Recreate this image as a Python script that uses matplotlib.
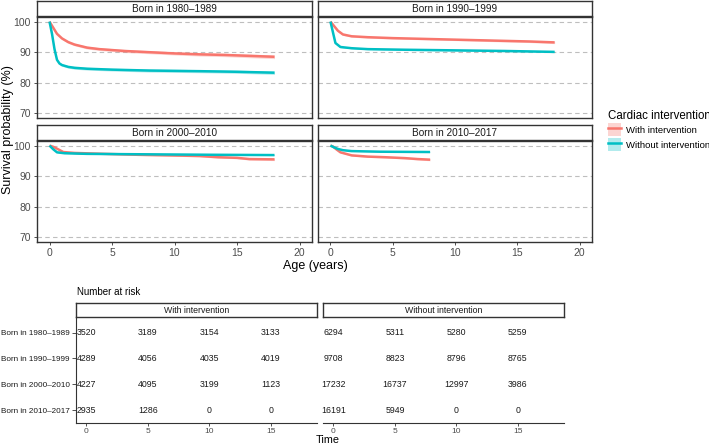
import matplotlib.pyplot as plt
from matplotlib.patches import Patch
from matplotlib.lines import Line2D
from matplotlib.legend_handler import HandlerTuple

plt.rcParams['font.family'] = ['Liberation Sans', 'DejaVu Sans']

red = '#F8766D'
cyan = '#00BFC4'

cohorts = ['Born in 1980–1989', 'Born in 1990–1999', 'Born in 2000–2010', 'Born in 2010–2017']

# survival curves (age in years, survival %)
t80_w = [0, 0.3, 0.6, 1, 1.5, 2, 3, 4, 6, 8, 10, 12, 14, 16, 18]
s80_w = [100, 98, 96, 94.5, 93.3, 92.5, 91.5, 91, 90.4, 90, 89.6, 89.3, 89.1, 88.8, 88.5]
ci80_w = [0, 0.3, 0.35, 0.4, 0.4, 0.4, 0.45, 0.45, 0.5, 0.5, 0.5, 0.55, 0.55, 0.6, 0.6]
t80_wo = [0, 0.2, 0.4, 0.6, 0.8, 1, 1.5, 2, 3, 5, 8, 12, 15, 18]
s80_wo = [100, 96, 91, 87.5, 86.3, 85.8, 85.2, 84.9, 84.6, 84.3, 84.0, 83.8, 83.6, 83.3]
ci80_wo = [0, 0.3, 0.35, 0.4, 0.4, 0.4, 0.4, 0.45, 0.45, 0.45, 0.5, 0.5, 0.5, 0.55]

t90_w = [0, 0.3, 0.6, 1, 1.7, 3, 5, 8, 10, 13, 16, 18]
s90_w = [100, 98.5, 97, 95.8, 95.2, 94.9, 94.6, 94.3, 94.1, 93.8, 93.5, 93.2]
ci90_w = [0, 0.2, 0.25, 0.3, 0.3, 0.3, 0.3, 0.3, 0.3, 0.35, 0.35, 0.4]
t90_wo = [0, 0.2, 0.4, 0.8, 1.7, 3, 6, 10, 14, 18]
s90_wo = [100, 96.5, 93, 91.7, 91.3, 91.0, 90.8, 90.6, 90.4, 90.1]
ci90_wo = [0, 0.2, 0.2, 0.2, 0.2, 0.2, 0.2, 0.25, 0.25, 0.25]

t00_w = [0, 0.3, 0.6, 1.1, 2, 4.4, 7, 9.6, 12, 13.5, 15, 16, 18]
s00_w = [100, 99.6, 99.0, 97.9, 97.6, 97.3, 97.0, 96.8, 96.6, 96.2, 96.0, 95.6, 95.5]
ci00_w = [0, 0.1, 0.15, 0.2, 0.2, 0.2, 0.25, 0.25, 0.3, 0.3, 0.3, 0.35, 0.4]
t00_wo = [0, 0.3, 0.6, 1.2, 3, 6, 9.6, 13, 18]
s00_wo = [100, 98.8, 97.8, 97.5, 97.3, 97.2, 97.1, 97.0, 96.9]
ci00_wo = [0, 0.1, 0.1, 0.1, 0.1, 0.1, 0.1, 0.15, 0.15]

t10_w = [0, 0.2, 0.5, 0.8, 1.7, 3, 4.4, 6, 7, 8]
s10_w = [100, 99.7, 98.7, 97.8, 96.8, 96.4, 96.2, 95.9, 95.6, 95.4]
ci10_w = [0, 0.1, 0.15, 0.2, 0.2, 0.25, 0.25, 0.3, 0.3, 0.35]
t10_wo = [0, 0.3, 0.6, 1.0, 1.7, 4, 8]
s10_wo = [100, 99.4, 98.9, 98.5, 98.2, 98.0, 97.9]
ci10_wo = [0, 0.1, 0.1, 0.1, 0.1, 0.1, 0.1]

curves = [
    [(t80_w, s80_w, ci80_w), (t80_wo, s80_wo, ci80_wo)],
    [(t90_w, s90_w, ci90_w), (t90_wo, s90_wo, ci90_wo)],
    [(t00_w, s00_w, ci00_w), (t00_wo, s00_wo, ci00_wo)],
    [(t10_w, s10_w, ci10_w), (t10_wo, s10_wo, ci10_wo)],
]

# number at risk table
risk_times = [0, 5, 10, 15]
risk_with = [[3520, 3189, 3154, 3133],
             [4289, 4056, 4035, 4019],
             [4227, 4095, 3199, 1123],
             [2935, 1286, 0, 0]]
risk_without = [[6294, 5311, 5280, 5259],
                [9708, 8823, 8796, 8765],
                [17232, 16737, 12997, 3986],
                [16191, 5949, 0, 0]]

W, H = 709, 444
fig = plt.figure(figsize=(W / 100, H / 100), dpi=100)


def fbox(x0, y0, x1, y1):
    return [x0 / W, 1 - y1 / H, (x1 - x0) / W, (y1 - y0) / H]


border = '#333333'
gray_txt = '#4D4D4D'

panel_px = [(37, 17, 312, 118), (318, 17, 592, 118), (37, 141, 312, 242), (318, 141, 592, 242)]
strip_px = [(37, 1, 312, 16), (318, 1, 592, 16), (37, 125, 312, 140), (318, 125, 592, 140)]

for i, (p, s) in enumerate(zip(panel_px, strip_px)):
    ax = fig.add_axes(fbox(*p))
    for (t, sv, ci), col in zip(curves[i], [red, cyan]):
        lo = [a - b for a, b in zip(sv, ci)]
        hi = [a + b for a, b in zip(sv, ci)]
        ax.fill_between(t, lo, hi, color=col, alpha=0.3, lw=0)
        ax.plot(t, sv, color=col, lw=1.8, solid_capstyle='butt')
    ax.set_xlim(-1, 21)
    ax.set_ylim(68.5, 101.5)
    ax.set_yticks([70, 80, 90, 100])
    ax.set_xticks([0, 5, 10, 15, 20])
    for y in [70, 80, 90, 100]:
        ax.axhline(y, color='#BEBEBE', lw=0.8, ls=(0, (4, 3)), zorder=0)
    for sp in ax.spines.values():
        sp.set_color(border)
        sp.set_linewidth(1.0)
    ax.tick_params(length=2.5, width=0.6, color=border, labelsize=7.5, labelcolor=gray_txt, pad=2)
    if i % 2 == 1:
        ax.tick_params(labelleft=False, left=False)
    if i < 2:
        ax.tick_params(labelbottom=False, bottom=False)
    sax = fig.add_axes(fbox(*s))
    sax.set_xticks([])
    sax.set_yticks([])
    for sp in sax.spines.values():
        sp.set_color(border)
        sp.set_linewidth(1.0)
    sax.text(0.5, 0.5, cohorts[i], ha='center', va='center', fontsize=7.2, color='#1A1A1A')

fig.text(315 / W, 1 - 266 / H, 'Age (years)', ha='center', va='center', fontsize=9)
fig.text(8 / W, 1 - 130 / H, 'Survival probability (%)', ha='center', va='center',
         rotation=90, fontsize=9)

handles = [(Patch(facecolor=red, alpha=0.3, lw=0), Line2D([], [], color=red, lw=1.8)),
           (Patch(facecolor=cyan, alpha=0.3, lw=0), Line2D([], [], color=cyan, lw=1.8))]
leg = fig.legend(handles, ['With intervention', 'Without intervention'],
                 title='Cardiac intervention', loc='upper left',
                 bbox_to_anchor=(601 / W, 1 - 103 / H), frameon=False,
                 fontsize=6.8, title_fontsize=8.3, handlelength=1.4, handleheight=1.7,
                 handletextpad=0.5, labelspacing=0.2, borderaxespad=0.3,
                 handler_map={tuple: HandlerTuple(ndivide=1, pad=0)})
leg._legend_box.align = 'left'

# table
fig.text(77 / W, 1 - 292 / H, 'Number at risk', ha='left', va='center', fontsize=7)
rows = [4, 3, 2, 1]
for j, (x0, x1, data, title) in enumerate([(76, 317, risk_with, 'With intervention'),
                                           (323, 564, risk_without, 'Without intervention')]):
    ax = fig.add_axes(fbox(x0, 317, x1, 423))
    ax.set_xlim(-0.85, 18.75)
    ax.set_ylim(0.5, 4.6)
    for r, vals in zip(rows, data):
        for t, v in zip(risk_times, vals):
            ax.text(t, r, str(v), ha='center', va='center', fontsize=6.3, color='#1A1A1A')
    ax.spines['top'].set_visible(False)
    ax.spines['right'].set_visible(False)
    ax.spines['bottom'].set_color(border)
    ax.spines['left'].set_color(border)
    ax.set_xticks(risk_times)
    ax.tick_params(axis='x', length=2.5, width=0.6, color=border, labelsize=6,
                   labelcolor=gray_txt, pad=1)
    if j == 0:
        ax.set_yticks(rows)
        ax.set_yticklabels(cohorts, fontsize=5.9, color='#1A1A1A')
        ax.tick_params(axis='y', length=3, width=0.6, color=border, pad=1.5)
    else:
        ax.spines['left'].set_visible(False)
        ax.set_yticks([])
    sax = fig.add_axes(fbox(x0, 303, x1, 317))
    sax.set_xticks([])
    sax.set_yticks([])
    for sp in sax.spines.values():
        sp.set_color(border)
        sp.set_linewidth(1.0)
    sax.text(0.5, 0.5, title, ha='center', va='center', fontsize=6.3, color='#1A1A1A')

fig.text(328 / W, 1 - 440 / H, 'Time', ha='center', va='center', fontsize=7.8)

fig.savefig('out.png', dpi=100)
